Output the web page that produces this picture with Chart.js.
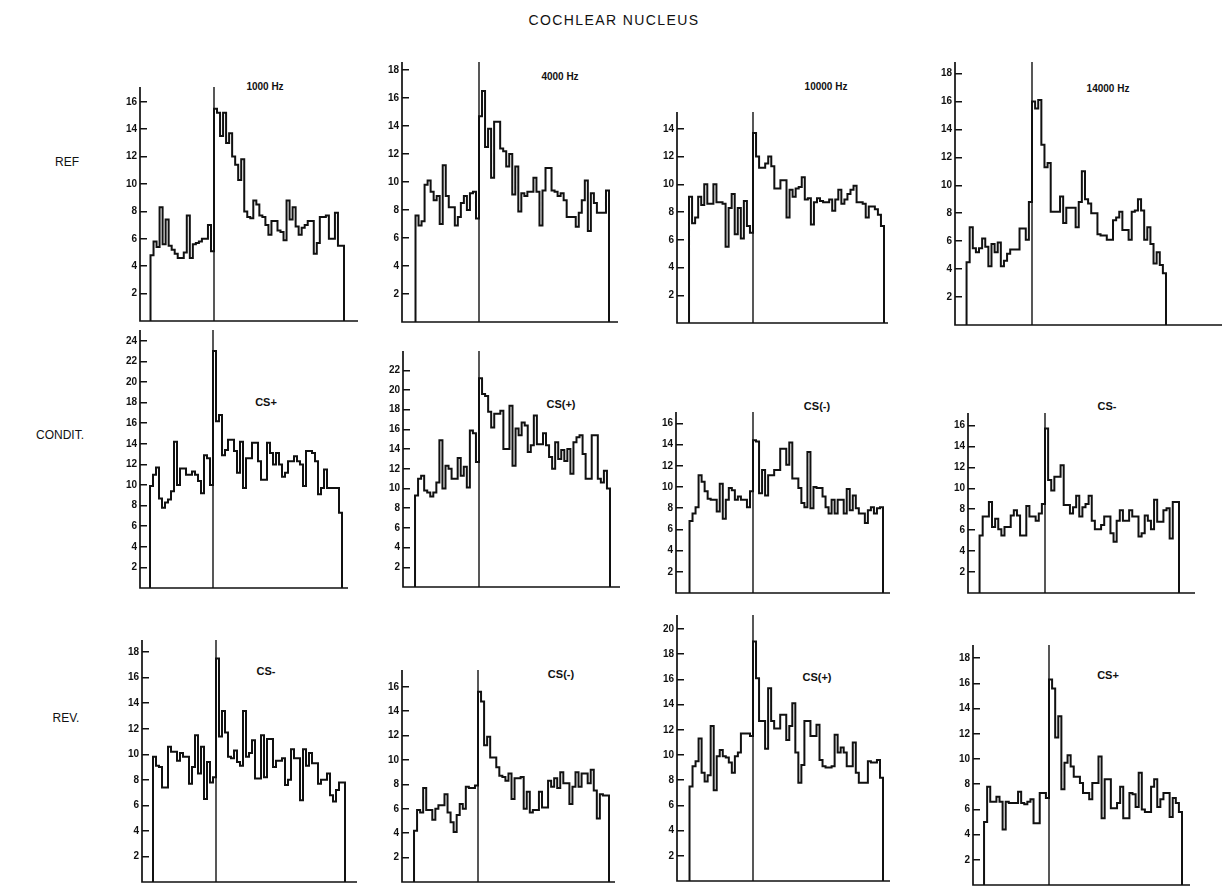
<!DOCTYPE html>
<html><head><meta charset="utf-8">
<script src="https://cdn.jsdelivr.net/npm/chart.js@4.4.1/dist/chart.umd.min.js"></script>
<style>
html,body{margin:0;padding:0;background:#fff;width:1227px;height:886px;overflow:hidden;position:relative;font-family:"Liberation Sans",Arial,sans-serif;}
.lbl{position:absolute;transform:translate(-50%,-50%);white-space:nowrap;color:#111;line-height:1;}
canvas{position:absolute;}
</style></head><body>
<script>
// ---- data ----
const onsetBin = 21;
const ref1000 = [4.8,5.8,5.4,8.3,5.6,7.4,5.5,5.2,4.9,4.6,4.6,5.0,7.7,4.6,5.6,5.7,5.8,6.0,6.0,7.0,5.1,
  15.5,15.2,13.5,15.2,13.0,13.7,12.0,11.4,10.3,11.8,8.0,7.6,7.5,8.8,8.5,7.7,7.6,7.0,6.3,7.3,7.3,6.6,6.5,5.9,8.8,7.4,8.3,6.9,6.3,6.8,7.0,7.3,7.3,4.9,5.7,7.6,7.6,7.7,6.0,6.0,7.9,5.5,5.5];
const ref4000 = [7.6,6.9,7.2,9.8,10.1,9.3,8.7,9.0,7.0,11.2,9.0,8.2,8.2,6.9,7.5,8.5,9.0,8.0,9.2,9.3,7.4,
  14.7,16.5,12.5,13.8,10.3,14.3,14.3,12.4,12.2,11.1,12.0,9.1,11.1,7.9,9.2,9.0,9.3,9.3,10.3,9.3,6.9,9.4,11.0,11.0,9.4,9.3,9.0,9.2,8.7,7.5,7.5,7.5,6.8,7.8,8.7,10.1,6.5,9.2,8.5,7.8,7.8,7.8,9.4];
const ref10000 = [9.1,7.2,7.6,9.1,8.5,10.0,8.6,8.6,10.0,8.7,8.7,8.6,5.5,8.3,9.3,6.4,8.3,6.1,8.8,7.0,6.5,
  13.7,12.0,11.2,11.2,11.5,12.0,11.3,9.7,9.7,10.3,10.3,7.6,9.6,9.1,9.7,9.8,10.5,8.9,9.0,7.1,8.7,9.0,8.8,8.7,8.7,8.9,8.1,8.9,9.6,8.6,8.9,9.3,9.6,9.9,8.7,8.7,8.6,7.6,8.4,8.4,8.2,7.8,7.0];
const ref14000 = [4.5,7.0,5.5,5.2,5.5,6.2,5.6,4.2,5.8,5.2,5.9,4.2,4.6,5.1,5.4,5.4,5.4,6.9,6.9,6.1,8.8,
  16.0,15.5,16.1,12.9,11.3,11.6,8.1,8.1,8.1,9.2,7.3,8.4,8.4,8.4,7.0,8.8,11.0,9.0,8.7,8.0,8.0,6.5,6.4,6.4,6.1,6.1,7.5,7.7,8.1,6.8,6.8,6.1,8.1,8.2,9.0,8.2,6.1,7.0,5.8,4.4,5.2,4.3,3.7];
const conditCSplus = [9.9,11.0,11.7,8.7,7.8,8.3,8.6,9.4,14.2,10.0,11.6,11.6,11.0,11.0,11.3,11.0,10.4,9.2,12.9,12.6,10.0,
  23.0,16.2,16.8,12.9,13.4,14.4,14.4,13.3,11.2,14.2,9.7,12.6,12.6,14.1,14.1,12.3,10.5,10.5,14.1,13.1,12.0,13.1,12.0,10.8,11.2,12.3,12.3,12.8,12.3,12.0,9.9,13.3,13.3,13.1,12.3,9.1,9.7,11.5,9.7,9.7,9.7,9.7,7.3];
const conditCSplusP = [9.3,11.0,11.3,9.8,9.6,9.2,9.6,10.6,14.9,10.0,12.3,12.0,11.0,11.0,13.1,11.3,12.2,10.1,15.9,15.6,12.7,
  21.2,19.6,19.4,17.8,16.2,17.6,17.6,17.9,14.0,14.0,18.4,12.3,16.1,15.4,16.7,16.4,13.7,14.4,17.4,14.5,14.5,15.6,14.4,13.2,12.0,14.7,13.0,13.9,12.8,14.0,11.5,14.7,15.2,15.4,13.5,11.0,11.0,15.4,15.4,11.0,10.6,11.8,10.0];
const conditCSminusP = [6.8,7.5,8.1,11.1,10.5,9.6,8.9,8.8,8.8,7.7,10.3,7.0,8.8,9.9,9.7,8.8,9.1,8.8,8.8,8.1,9.6,
  14.4,14.3,9.4,11.6,9.2,11.1,11.1,11.6,11.6,13.6,13.6,12.1,14.2,10.8,10.8,9.9,8.5,8.1,13.3,8.0,10.0,9.9,9.9,9.1,8.1,7.5,8.8,7.5,8.8,8.8,7.5,9.8,7.8,9.2,8.0,7.5,7.5,6.6,7.8,8.1,7.5,8.0,8.1];
const conditCSminus = [5.5,7.3,7.3,8.7,6.3,7.1,6.1,5.5,6.3,6.3,7.4,7.9,7.4,5.5,5.5,8.3,7.3,7.3,6.9,7.6,8.5,
  15.7,10.8,9.8,11.1,11.1,12.2,8.4,8.4,7.6,8.2,9.3,7.3,8.2,8.5,9.3,6.9,6.1,6.1,6.5,7.3,7.3,5.7,4.9,6.9,7.9,6.9,6.9,7.9,7.3,7.3,5.4,5.7,7.4,6.9,6.1,8.9,6.8,6.8,7.9,8.1,5.2,8.7,8.7];
const revCSminus = [9.8,9.1,9.0,7.4,7.4,10.6,10.2,10.2,9.5,10.1,9.8,9.8,7.7,9.0,11.5,8.5,10.6,6.5,9.4,7.8,8.2,
  17.5,11.4,13.4,11.7,9.8,9.7,10.3,9.4,9.1,13.4,9.8,10.1,11.1,8.1,8.1,11.5,8.2,11.2,11.2,9.0,9.5,9.5,9.7,7.6,8.0,10.4,9.7,9.7,6.4,10.4,9.1,10.1,9.3,9.3,7.7,8.0,8.0,8.5,6.8,6.3,7.2,7.8,7.8];
const revCSminusP = [4.2,5.9,5.7,7.7,5.9,5.9,5.1,6.0,6.3,6.3,7.2,5.7,4.9,4.1,5.5,6.4,6.0,7.8,7.7,7.7,7.9,
  15.6,14.8,11.2,11.9,10.2,10.2,9.4,8.7,8.6,8.3,8.9,6.8,8.5,8.5,8.6,6.0,7.4,5.7,5.9,5.9,7.4,6.1,6.1,8.3,7.8,8.5,7.7,9.0,8.1,8.1,6.4,7.8,9.0,7.8,8.9,8.9,8.1,9.2,7.5,5.2,7.2,7.1,7.1];
const revCSplusP = [7.5,9.1,9.5,11.3,8.6,7.9,8.4,12.3,7.2,9.9,10.4,9.9,9.8,9.4,8.6,9.9,10.2,11.7,11.7,11.7,11.5,
  19.0,16.1,12.7,12.7,10.5,15.3,12.7,12.1,12.1,13.2,13.2,11.2,12.3,14.1,10.2,7.8,9.2,12.7,12.7,11.5,11.5,12.4,9.6,9.1,9.0,9.0,9.1,11.6,10.2,10.6,10.2,9.1,9.1,11.0,8.6,7.8,7.8,7.8,9.5,9.4,9.4,9.6,8.2];
const revCSplus = [5.0,7.8,6.6,6.6,7.0,6.6,4.4,6.6,6.5,6.5,6.5,7.4,6.5,6.4,6.6,6.8,4.9,4.9,7.3,7.3,6.9,
  16.3,15.6,11.7,13.4,7.6,9.7,10.3,9.4,8.6,8.6,8.1,7.3,7.3,6.8,8.1,8.1,10.2,5.3,8.4,8.4,6.1,6.1,6.5,7.8,5.3,5.3,7.3,7.2,6.2,8.9,6.0,5.8,5.8,7.8,8.4,6.2,6.8,7.3,7.3,5.4,6.9,6.5,5.8];

const panelSeries = [ref1000, ref4000, ref10000, ref14000,
  conditCSplus, conditCSplusP, conditCSminusP, conditCSminus,
  revCSminus, revCSminusP, revCSplusP, revCSplus];
const panelTitles = ["1000 Hz","4000 Hz","10000 Hz","14000 Hz","CS+","CS(+)","CS(-)","CS-","CS-","CS(-)","CS(+)","CS+"];
const rowLabels = ["REF","CONDIT.","REV."];
const chartTitle = "COCHLEAR NUCLEUS";
const yTickTop = [16,18,14,18,24,22,16,16,18,16,20,18];
const yTickStep = 2;

// ---- layout (pixel geometry of each panel) ----
const geom = [
  {axisX:140, zeroY:321, top:87,  ppu:13.7,  onsetPx:214,  endPx:344,  rightPx:358},
  {axisX:402, zeroY:322, top:62,  ppu:14.0,  onsetPx:479,  endPx:609,  rightPx:618},
  {axisX:677, zeroY:323, top:112, ppu:13.87, onsetPx:753,  endPx:884,  rightPx:888},
  {axisX:955, zeroY:325, top:62,  ppu:13.97, onsetPx:1032, endPx:1166, rightPx:1222},
  {axisX:140, zeroY:588, top:330, ppu:10.3,  onsetPx:213,  endPx:342,  rightPx:348},
  {axisX:403, zeroY:587, top:351, ppu:9.85,  onsetPx:479,  endPx:610,  rightPx:620},
  {axisX:676, zeroY:593, top:412, ppu:10.6,  onsetPx:753,  endPx:883,  rightPx:890},
  {axisX:968, zeroY:593, top:413, ppu:10.47, onsetPx:1045, endPx:1179, rightPx:1195},
  {axisX:142, zeroY:882, top:640, ppu:12.77, onsetPx:216,  endPx:345,  rightPx:357},
  {axisX:402, zeroY:882, top:670, ppu:12.2,  onsetPx:478,  endPx:609,  rightPx:615},
  {axisX:677, zeroY:881, top:615, ppu:12.6,  onsetPx:753,  endPx:883,  rightPx:890},
  {axisX:973, zeroY:885, top:645, ppu:12.6,  onsetPx:1049, endPx:1182, rightPx:1190}
];
const titlePos = [[265,87],[560,77],[826,87],[1108,89],[266,402],[561,404],[817,406],[1107,406],[266,671],[561,674],[817,677],[1108,675]];
const rowPos = [[67,162],[60,435],[66,718]];

function addLabel(text, x, y, css) {
  const d = document.createElement('div');
  d.className = 'lbl';
  d.textContent = text;
  d.style.left = x + 'px';
  d.style.top = y + 'px';
  Object.assign(d.style, css || {});
  document.body.appendChild(d);
}
addLabel(chartTitle, 614, 20, {fontSize:'14px', letterSpacing:'1.4px'});
rowLabels.forEach((t,i)=>addLabel(t, rowPos[i][0], rowPos[i][1], {fontSize:'12px'}));
panelTitles.forEach((t,i)=>addLabel(t, titlePos[i][0], titlePos[i][1],
  {fontSize: t.indexOf('Hz')>=0 ? '10px' : '11px', fontWeight:'bold'}));

const TICK_LEN = 7, YW = 40, PT = 14, PB = 12, PR = 3;

const axesPlugin = {
  id: 'axesLines',
  afterDatasetsDraw(chart) {
    const {ctx, chartArea, scales} = chart;
    const ax = chartArea.left - TICK_LEN;
    const y0 = scales.y.getPixelForValue(0);
    ctx.save();
    ctx.strokeStyle = '#111';
    ctx.lineWidth = 1.7;
    ctx.beginPath();
    ctx.moveTo(ax, chartArea.top);
    ctx.lineTo(ax, y0);
    ctx.lineTo(chartArea.right, y0);
    ctx.stroke();
    ctx.restore();
  }
};

geom.forEach((g, i) => {
  const vals = panelSeries[i];
  const N = vals.length;
  const w = (g.endPx - g.onsetPx) / (N - onsetBin);
  const histStart = g.onsetPx - onsetBin * w;
  const areaLeft = Math.round(g.axisX + TICK_LEN);
  const areaTop = Math.round(g.top);
  const areaBottom = Math.round(g.zeroY);
  const areaRight = Math.round(g.rightPx);
  const xMin = (areaLeft - histStart) / w;
  const xMax = (areaRight - histStart) / w;
  const yMax = (areaBottom - areaTop) / g.ppu;

  const cv = document.createElement('canvas');
  const cw = YW + (areaRight - areaLeft) + PR;
  const ch = PT + (areaBottom - areaTop) + PB;
  cv.width = cw; cv.height = ch;
  cv.style.width = cw + 'px'; cv.style.height = ch + 'px';
  cv.style.left = (areaLeft - YW) + 'px';
  cv.style.top = (areaTop - PT) + 'px';
  document.body.appendChild(cv);

  // histogram outline points (step function)
  const pts = [{x:0, y:0}];
  vals.forEach((v, k) => pts.push({x:k, y:v}));
  pts.push({x:N, y:vals[N-1]});
  pts.push({x:N, y:0});

  const ticks = [];
  for (let v = yTickStep; v <= yTickTop[i]; v += yTickStep) ticks.push(v);

  new Chart(cv, {
    type: 'line',
    data: {
      datasets: [
        {data: pts, stepped: 'before', borderColor: '#111', borderWidth: 2,
         pointRadius: 0, fill: false, borderJoinStyle: 'miter', clip: false},
        {data: [{x:onsetBin, y:0}, {x:onsetBin, y:yMax}], borderColor: '#111', borderWidth: 1.4,
         pointRadius: 0, fill: false, clip: false}
      ]
    },
    options: {
      responsive: false, animation: false, devicePixelRatio: 1,
      layout: {padding: {top: PT, bottom: PB, right: PR, left: 0}},
      plugins: {legend: {display: false}, tooltip: {enabled: false}},
      scales: {
        x: {type: 'linear', display: false, min: xMin, max: xMax},
        y: {type: 'linear', min: 0, max: yMax,
            afterBuildTicks: (s) => { s.ticks = ticks.map(v => ({value: v})); },
            afterFit: (s) => { s.width = YW; },
            ticks: {color: '#111', padding: 3, font: {family: '"Liberation Sans", Arial, sans-serif', size: 10, weight: 'bold'}},
            grid: {display: true, drawOnChartArea: false, drawTicks: true, tickLength: TICK_LEN, color: '#111', lineWidth: 1.5},
            border: {display: false}}
      }
    },
    plugins: [axesPlugin]
  });
});
</script>
</body></html>
